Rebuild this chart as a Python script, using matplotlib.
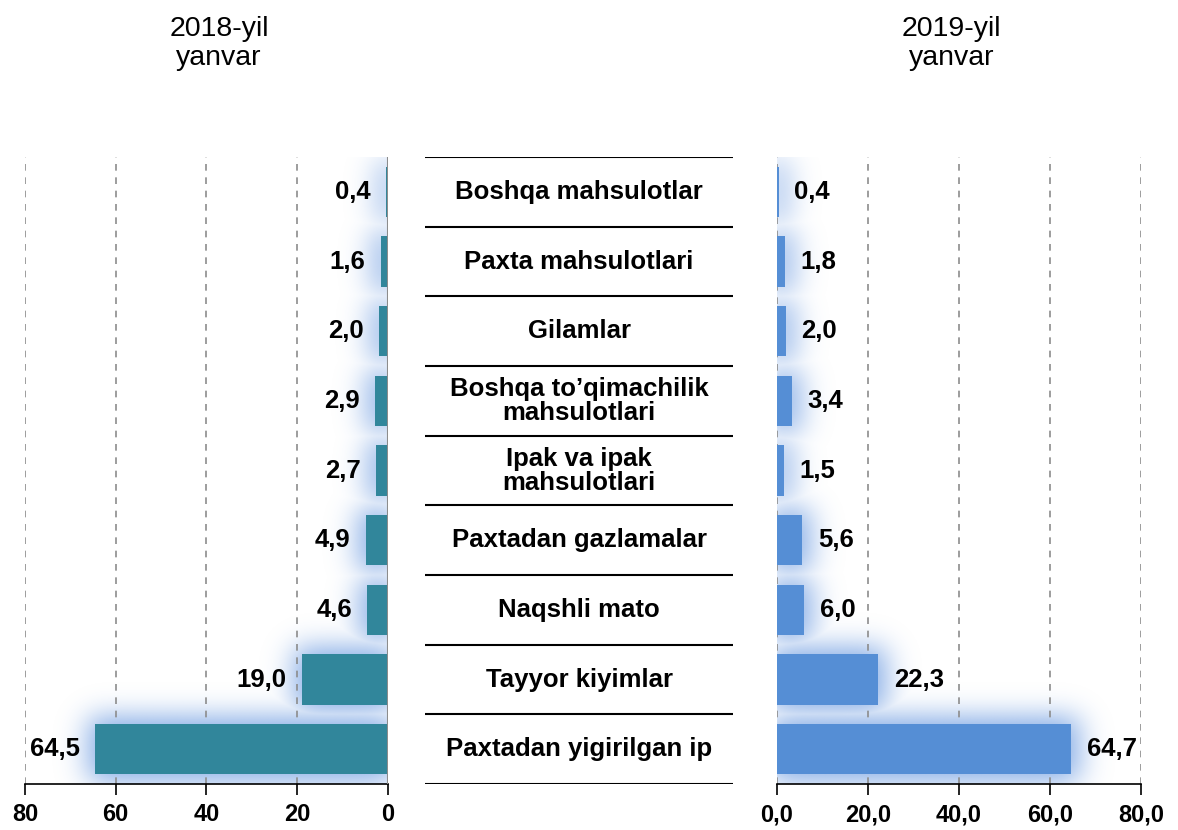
import math

import matplotlib.pyplot as plt
import numpy as np
from matplotlib import font_manager
from matplotlib.colors import to_rgb

categories = [
    "Boshqa mahsulotlar",
    "Paxta mahsulotlari",
    "Gilamlar",
    "Boshqa to\u2019qimachilik\nmahsulotlari",
    "Ipak va ipak\nmahsulotlari",
    "Paxtadan gazlamalar",
    "Naqshli mato",
    "Tayyor kiyimlar",
    "Paxtadan yigirilgan ip",
]
values_2018 = [0.4, 1.6, 2.0, 2.9, 2.7, 4.9, 4.6, 19.0, 64.5]
values_2019 = [0.4, 1.8, 2.0, 3.4, 1.5, 5.6, 6.0, 22.3, 64.7]
ticks = [0, 20, 40, 60, 80]
title_left = "2018-yil\nyanvar"
title_right = "2019-yil\nyanvar"


# pick the regular-width Liberation Sans files (not Narrow)
def find_font(bold):
    for f in font_manager.fontManager.ttflist:
        if f.name == "Liberation Sans" and "Narrow" not in f.fname \
                and f.style == "normal" and (f.weight >= 600) == bold:
            return font_manager.FontProperties(fname=f.fname)
    return font_manager.FontProperties(family="DejaVu Sans",
                                       weight="bold" if bold else "normal")


FP_B = find_font(True)
FP_R = find_font(False)


def fp(base, size):
    p = base.copy()
    p.set_size(size)
    return p


LEFT_COLOR = "#31869B"
RIGHT_COLOR = "#558ED5"
GLOW = "#5B8FDD"
BAR_H = 0.72
XMAX = 80

fig = plt.figure(figsize=(11.78, 8.3), dpi=100)
ax_l = fig.add_axes([0.0212, 0.0554, 0.3081, 0.7554])
ax_c = fig.add_axes([0.3608, 0.0554, 0.2615, 0.7554])
ax_r = fig.add_axes([0.6596, 0.0554, 0.3090, 0.7554])

n = len(categories)
ypos = list(range(n))
erf = np.vectorize(math.erf)


def glow(ax, values):
    # soft blurred halo behind each bar (blurred rectangle, separable)
    xs = np.linspace(0, XMAX, 900)
    ys = np.linspace(-0.5, n - 0.5, 900)
    sx, sy = 4.5, 0.28
    ex, ey = 1.5, 0.1
    img = np.zeros((len(ys), len(xs)))
    for y, v in zip(ypos, values):
        px = 0.5 * (erf((xs + ex) / sx) - erf((xs - v - ex) / sx))
        py = 0.5 * (erf((ys - y + BAR_H / 2 + ey) / sy)
                    - erf((ys - y - BAR_H / 2 - ey) / sy))
        img = np.maximum(img, np.outer(py, px))
    rgba = np.zeros((len(ys), len(xs), 4))
    rgba[..., :3] = to_rgb(GLOW)
    rgba[..., 3] = np.clip(img * 0.75, 0, 1)
    ax.imshow(rgba, extent=(0, XMAX, n - 0.5, -0.5), origin="upper",
              aspect="auto", zorder=0.2, interpolation="bilinear")


def style(ax):
    ax.set_ylim(n - 0.5, -0.5)
    ax.set_xlim(0, XMAX)
    ax.set_xticks(ticks)
    for s in ["top", "left", "right"]:
        ax.spines[s].set_visible(False)
    ax.spines["bottom"].set_color("black")
    ax.spines["bottom"].set_linewidth(1.2)
    ax.tick_params(axis="x", direction="out", length=8, width=1.2, pad=6)
    ax.tick_params(axis="y", length=0)
    ax.set_yticks([])
    ax.xaxis.grid(True, linestyle=(0, (4, 4)), color="#8C8C8C", linewidth=1.2)
    ax.set_axisbelow(True)


# left panel
glow(ax_l, values_2018)
style(ax_l)
ax_l.invert_xaxis()
ax_l.barh(ypos, values_2018, height=BAR_H, color=LEFT_COLOR, zorder=3)
ax_l.axvline(0, color="#8C8C8C", linewidth=1.5, zorder=4)
ax_l.set_xticklabels([str(t) for t in ticks], fontproperties=fp(FP_B, 17))
for y, v in zip(ypos, values_2018):
    ax_l.annotate(f"{v:.1f}".replace(".", ","), (v, y), xytext=(-11, 0),
                  textcoords="offset points", ha="right", va="center",
                  fontproperties=fp(FP_B, 18.5), zorder=5)

# right panel
glow(ax_r, values_2019)
style(ax_r)
ax_r.barh(ypos, values_2019, height=BAR_H, color=RIGHT_COLOR, zorder=3)
ax_r.set_xticklabels([f"{t:.1f}".replace(".", ",") for t in ticks],
                     fontproperties=fp(FP_B, 17))
for y, v in zip(ypos, values_2019):
    ax_r.annotate(f"{v:.1f}".replace(".", ","), (v, y), xytext=(11, 0),
                  textcoords="offset points", ha="left", va="center",
                  fontproperties=fp(FP_B, 18.5), zorder=5)

fig.text(0.186, 0.948, title_left, ha="center", va="center",
         fontproperties=fp(FP_R, 20.5), linespacing=1.15)
fig.text(0.808, 0.948, title_right, ha="center", va="center",
         fontproperties=fp(FP_R, 20.5), linespacing=1.15)

# center labels
ax_c.set_xlim(0, 1)
ax_c.set_ylim(n - 0.5, -0.5)
ax_c.axis("off")
for k in range(n + 1):
    ax_c.axhline(k - 0.5, color="black", linewidth=1.5)
for y, c in zip(ypos, categories):
    ax_c.text(0.5, y, c, ha="center", va="center",
              fontproperties=fp(FP_B, 18.5), linespacing=1.0)

fig.savefig("out.png", dpi=100)
